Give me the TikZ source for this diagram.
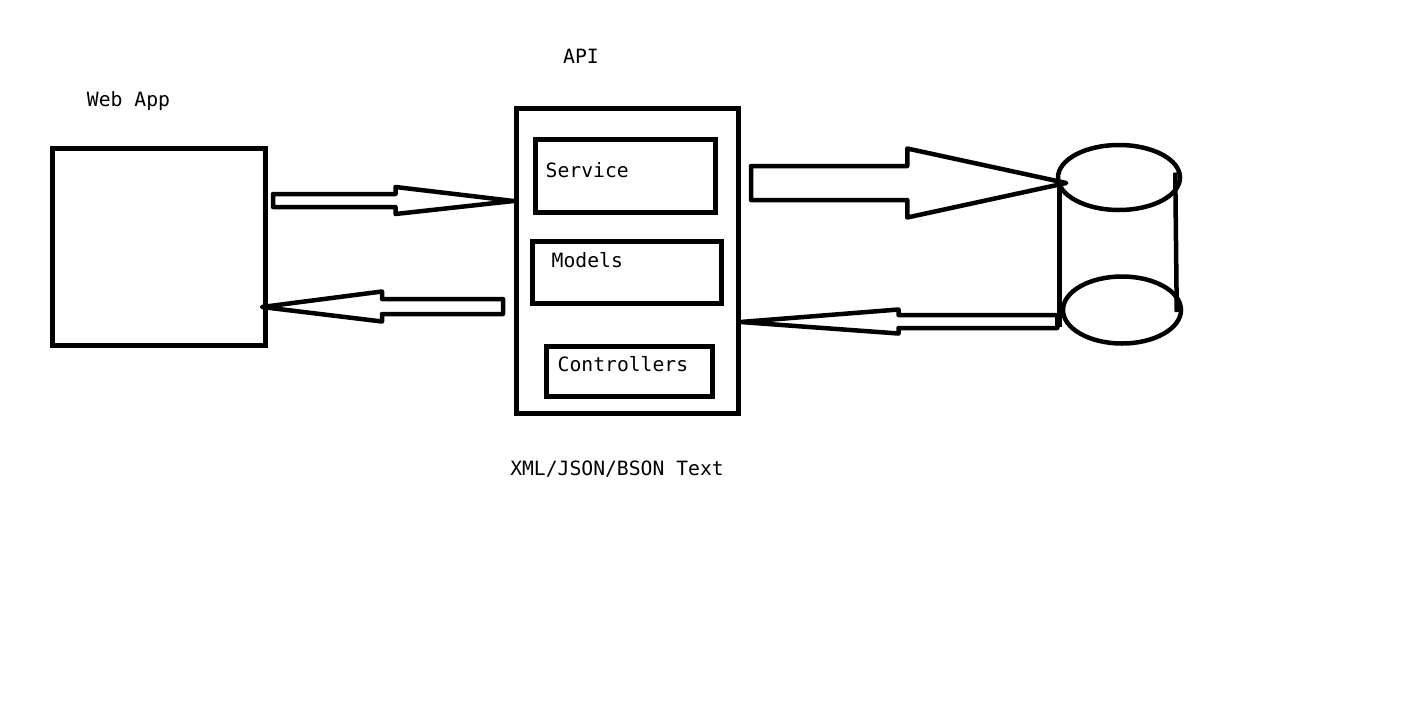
\documentclass[tikz,border=0pt]{standalone}
\usepackage{fontspec}
\setmonofont{DejaVu Sans Mono}
\usepackage{tikz}
\usetikzlibrary{shapes.geometric, calc, positioning}

% hollow block arrow: tail, tip, shaft half width, head half width, head length
\newcommand{\blockarrow}[5]{%
  \draw[fatarrow] let \p1=(#1), \p2=(#2) in
    (\x1,\y1+#3) -- (\x2-#5,\y1+#3) -- (\x2-#5,\y1+#4) -- (\x2,\y2)
    -- (\x2-#5,\y1-#4) -- (\x2-#5,\y1-#3) -- (\x1,\y1-#3) -- cycle;}

\begin{document}
\begin{tikzpicture}[
    x=1pt, y=-1pt,
    box/.style={draw, line width=5pt, inner sep=0pt},
    txt/.style={inner sep=0pt, text height=14pt, text depth=0pt, font=\ttfamily\fontsize{19.7}{24}\selectfont},
    fatarrow/.style={draw, line width=4.5pt, line join=round, fill=white},
    dbpart/.style={draw, ellipse, line width=4.5pt, inner sep=0pt}
]
    \useasboundingbox (0,0) rectangle (1416,726);

    % Web App
    \node[box, minimum width=213pt, minimum height=197pt] (webapp) at (158.5,246.5) {};
    \node[txt] (webapplbl) at (128.5,99) {Web App};

    % API with its parts
    \node[box, minimum width=222pt, minimum height=305pt] (api) at (627,260.5) {};
    \node[txt] (apilbl) at (581,56) {API};
    \node[box, minimum width=180pt, minimum height=73pt] (service) at (625,175.5) {};
    \node[box, minimum width=189pt, minimum height=62pt] (models) at (626.5,272) {};
    \node[box, minimum width=166pt, minimum height=50pt] (controllers) at (629,371) {};
    \node[txt, anchor=west] at ([xshift=13pt,yshift=5pt]service.west) {Service};
    \node[txt, anchor=west] at ([xshift=22pt,yshift=12pt]models.west) {Models};
    \node[txt, anchor=west] at ([xshift=14pt,yshift=7pt]controllers.west) {Controllers};
    \node[txt] (formatlbl) at (617,468) {XML/JSON/BSON Text};

    % Database
    \node[dbpart, minimum width=122pt, minimum height=65pt] (dbtop) at (1119,177.5) {};
    \node[dbpart, minimum width=118pt, minimum height=67pt] (dbbot) at (1122,310) {};
    \draw[line width=4.5pt] ([xshift=3.5pt,yshift=-7pt]dbtop.west) -- ([xshift=-1.5pt,yshift=-17pt]dbbot.west);
    \draw[line width=4.5pt] ([xshift=-7pt,yshift=5pt]dbtop.east) -- ([xshift=-6.5pt,yshift=-2pt]dbbot.east);

    % Arrows
    \blockarrow{$(webapp.east)+(5.5pt,46pt)$}{$(api.west)+(0pt,59.5pt)$}{6.5pt}{13.5pt}{118pt}
    \blockarrow{$(api.west)+(-10.5pt,-46pt)$}{$(webapp.east)+(-5.5pt,-60.5pt)$}{7.5pt}{15pt}{-120pt}
    \blockarrow{$(api.east)+(10.5pt,77.5pt)$}{$(dbtop.west)+(10.5pt,-5.5pt)$}{17pt}{34.5pt}{159pt}
    \blockarrow{$(dbbot.west)+(-3.5pt,-11.5pt)$}{$(api.east)+(0pt,-61.5pt)$}{6.5pt}{12pt}{-158pt}

\end{tikzpicture}
\end{document}
